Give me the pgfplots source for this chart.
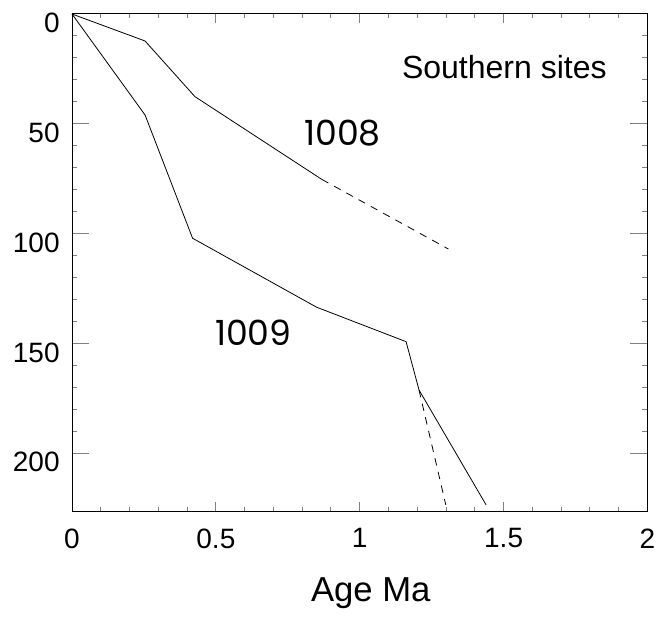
\documentclass[border=0pt]{standalone}
\usepackage{fontspec}
\setmainfont{Liberation Sans}
\newfontfamily\numfont{Poppins}
\usepackage{pgfplots}
\pgfplotsset{compat=1.18}
\begin{document}
\begin{tikzpicture}
\begin{axis}[
  name=ax,
  scale only axis,
  width=431.625pt, height=372.75pt,
  xmin=0, xmax=2,
  ymin=0, ymax=226.3,
  y dir=reverse,
  xtick={0,0.5,1,1.5,2},
  xticklabels={0,0.5,1,1.5,2},
  ytick={0,50,100,150,200},
  minor x tick num=4,
  minor y tick num=4,
  tick align=inside,
  xtick pos=both, ytick pos=both,
  xticklabel pos=bottom, yticklabel pos=left,
  axis line style={line width=0.75pt},
  major x tick style={line width=0.75pt, /pgfplots/major tick length=7.1pt},
  minor x tick style={line width=0.75pt, /pgfplots/minor tick length=3.2pt},
  major y tick style={line width=0.75pt, /pgfplots/major tick length=13pt},
  minor y tick style={line width=0.75pt, /pgfplots/minor tick length=4.1pt},
  /pgf/number format/assume math mode=true,
  tick label style={font=\fontsize{21}{24}\selectfont},
  xticklabel style={yshift=-9.7pt},
  yticklabel style={xshift=-5.75pt, yshift=-6.8pt},
  xlabel={Age Ma},
  xlabel style={font=\fontsize{26}{30}\selectfont, at={(axis description cs:0.5,0)}, anchor=north, yshift=-46.8pt, xshift=8.25pt},
  clip=false,
]
\addplot[black, line width=0.6pt] coordinates {(0,0) (0.254,12.3) (0.427,37.6) (0.868,75.3)};
\addplot[black, line width=0.6pt, dash pattern=on 5.6pt off 4.9pt] coordinates {(0.868,75.3) (1.308,107.0)};
\addplot[black, line width=0.6pt] coordinates {(0,0) (0.254,46.0) (0.419,102.1) (0.850,133.5) (1.161,149.2) (1.206,171.2) (1.439,223.5)};
\addplot[black, line width=0.6pt, dash pattern=on 5.6pt off 4.9pt] coordinates {(1.206,171.2) (1.299,223.5)};
\node[anchor=base west, inner sep=0pt, font=\fontsize{24}{28}\selectfont] at (axis cs:1.146,29.3) {Southern sites};
\node[anchor=center, inner sep=0pt, font=\numfont\fontsize{26}{30}\selectfont] at (axis cs:0.940,54.1) {1008};
\node[anchor=center, inner sep=0pt, font=\numfont\fontsize{26}{30}\selectfont] at (axis cs:0.630,145.0) {1009};
\end{axis}
\path (ax.south west) ++(-54pt,-84pt);
\path (ax.north east) ++(16.875pt,10.5pt);
\end{tikzpicture}
\end{document}
